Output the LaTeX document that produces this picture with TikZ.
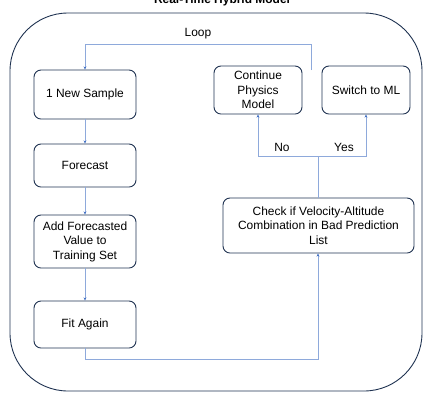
\documentclass[tikz,border=0pt]{standalone}
\usepackage{fontspec}
\setmainfont{Liberation Sans}
\usetikzlibrary{arrows.meta}
\definecolor{navy}{HTML}{1F3251}
\definecolor{lblue}{HTML}{8EA9DB}
\definecolor{tipblue}{HTML}{4472C4}
\tikzset{
  box/.style={draw=navy, line width=0.9pt, rounded corners=7pt, align=center, inner sep=0pt, font=\fontsize{12}{14.5}\selectfont},
  conn/.style={draw=lblue, line width=0.6pt},
  arr/.style={conn, -{Stealth[length=3.2pt,width=3pt,color=tipblue]}},
  lbl/.style={font=\fontsize{12}{14}\selectfont}
}
\begin{document}
\begin{tikzpicture}[x=1bp,y=-1bp]
\useasboundingbox (0,0) rectangle (423,393);
\begin{scope}
\clip (0,0) rectangle (423,393);
\node[font=\bfseries\fontsize{12}{14}\selectfont, anchor=base] (title) at (222,3) {Real-Time Hybrid Model};
\draw[navy, line width=0.9pt, rounded corners=58bp] (10,13) rectangle (422,391);
\end{scope}

\node[box, minimum width=102bp, minimum height=49bp] (ns) at (85,94.5) {1 New Sample};
\node[box, minimum width=102bp, minimum height=43bp] (fc) at (85,165.5) {Forecast};
\node[box, minimum width=102bp, minimum height=53bp] (add) at (85,241.5) {Add Forecasted\\Value to\\Training Set};
\node[box, minimum width=102bp, minimum height=47bp] (fit) at (85,324.5) {Fit Again};
\node[box, minimum width=88bp, minimum height=48bp] (cpm) at (258,90) {Continue\\Physics\\Model};
\node[box, minimum width=88bp, minimum height=48bp] (ml) at (366,90) {Switch to ML};
\node[box, minimum width=191bp, minimum height=55bp] (chk) at (318.5,225.5) {Check if Velocity-Altitude\\Combination in Bad Prediction\\List};

\coordinate (loopstart) at (311,70);
\draw[arr] (loopstart) -- (311,44) -- node[lbl, above=1bp] {Loop} (85,44) -- (ns.north);
\draw[arr] (ns) -- (fc);
\draw[arr] (fc) -- (add);
\draw[arr] (add) -- (fit);
\draw[arr] (fit.south) -- (85,359) -- (318,359) -- (chk.south -| 318,0);
\coordinate (split) at (318,156);
\draw[conn] (chk.north -| 318,0) -- (split);
\draw[arr] (split) -- (258,156) -- (cpm.south);
\draw[arr] (split) -- (366,156) -- (ml.south);
\node[lbl] (no) at (282,147) {No};
\node[lbl] (yes) at (344,147) {Yes};
\end{tikzpicture}
\end{document}
